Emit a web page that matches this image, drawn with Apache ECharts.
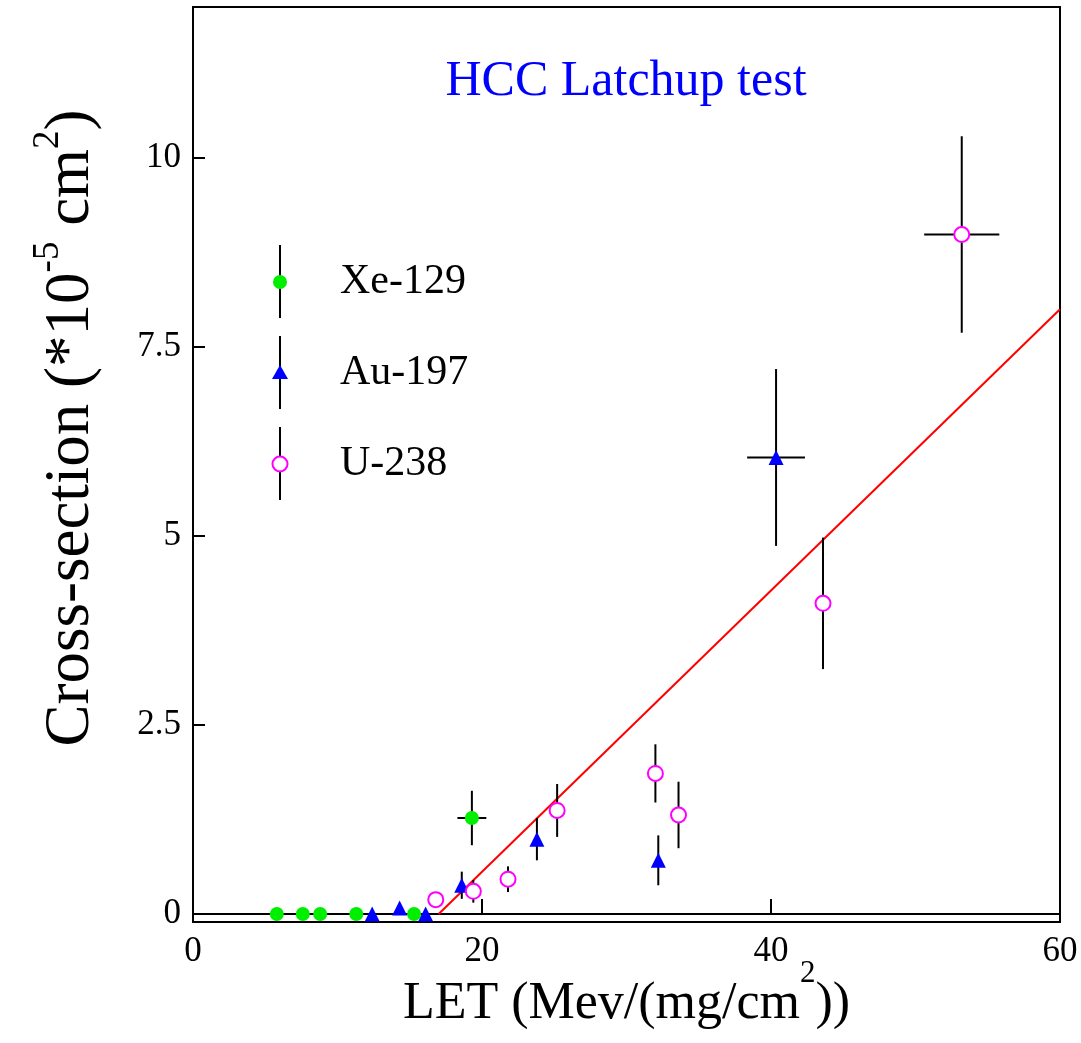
<!DOCTYPE html>
<html><head><meta charset="utf-8">
<script src="https://cdn.jsdelivr.net/npm/echarts@6/dist/echarts.min.js"></script>
<style>html,body{margin:0;padding:0;background:#fff}#c{width:1081px;height:1043px}</style>
</head><body><div id="c"></div>
<script>
// ---- data ----
const xeLET      = [5.8, 7.6, 8.8, 11.3, 15.3, 19.3];
const xeSigma    = [0, 0, 0, 0, 0, 1.27];
const xeLETErr   = [0, 0, 0, 0, 0, 1.0];
const xeSigmaErr = [0, 0, 0, 0, 0, 0.36];

const auLET      = [12.4, 14.3, 16.1, 18.6, 23.8, 32.2, 40.35];
const auSigma    = [0, 0.08, 0, 0.38, 0.99, 0.71, 6.04];
const auLETErr   = [0, 0, 0, 0, 0, 0, 2.0];
const auSigmaErr = [0, 0, 0, 0.18, 0.28, 0.33, 1.17];

const uLET       = [16.8, 19.4, 21.8, 25.2, 32.0, 33.6, 43.6, 53.2];
const uSigma     = [0.19, 0.30, 0.46, 1.37, 1.86, 1.31, 4.11, 8.99];
const uLETErr    = [0, 0, 0, 0, 0, 0, 0, 2.6];
const uSigmaErr  = [0.1, 0.15, 0.17, 0.35, 0.385, 0.44, 0.87, 1.3];

const fitLET     = [17.0, 60];
const fitSigma   = [0, 8.0];

const xTicks = [0, 20, 40, 60];
const yTicks = [0, 2.5, 5, 7.5, 10];

const seriesNames = ['Xe-129', 'Au-197', 'U-238'];

// ---- build ----
const FONT = '"Liberation Serif", "Times New Roman", serif';
const zip2 = (a, b) => a.map((v, i) => [v, b[i]]);
const zip4 = (a, b, c, d) => a.map((v, i) => [v, b[i], c[i], d[i]]);

function errRender(params, api) {
  const x = api.value(0), y = api.value(1), ex = api.value(2), ey = api.value(3);
  const style = { stroke: '#000', lineWidth: 2 };
  const children = [];
  if (ey > 0) {
    const p1 = api.coord([x, y - ey]), p2 = api.coord([x, y + ey]);
    children.push({ type: 'line', shape: { x1: p1[0], y1: p1[1], x2: p2[0], y2: p2[1] }, style });
  }
  if (ex > 0) {
    const p1 = api.coord([x - ex, y]), p2 = api.coord([x + ex, y]);
    children.push({ type: 'line', shape: { x1: p1[0], y1: p1[1], x2: p2[0], y2: p2[1] }, style });
  }
  return { type: 'group', children };
}

const errAll = [].concat(
  zip4(xeLET, xeSigma, xeLETErr, xeSigmaErr),
  zip4(auLET, auSigma, auLETErr, auSigmaErr),
  zip4(uLET, uSigma, uLETErr, uSigmaErr)
).filter(d => d[2] > 0 || d[3] > 0);

const chart = echarts.init(document.getElementById('c'), null, { renderer: 'canvas' });

const legendY = [282, 373, 464];
const legendGraphics = [];
legendY.forEach((cy, i) => {
  legendGraphics.push({ type: 'line', z: 10, shape: { x1: 280, y1: cy - 37, x2: 280, y2: cy + 36 }, style: { stroke: '#000', lineWidth: 2 } });
  if (i === 0) legendGraphics.push({ type: 'circle', z: 11, shape: { cx: 280, cy: cy, r: 7 }, style: { fill: '#00ee00' } });
  if (i === 1) legendGraphics.push({ type: 'polygon', z: 11, shape: { points: [[280, cy - 8], [272, cy + 6], [288, cy + 6]] }, style: { fill: '#0000ff' } });
  if (i === 2) legendGraphics.push({ type: 'circle', z: 11, shape: { cx: 280, cy: cy, r: 7.5 }, style: { fill: '#fff', stroke: '#ff00ff', lineWidth: 2 } });
  legendGraphics.push({ type: 'text', z: 11, x: 340, y: cy, style: { text: seriesNames[i], font: '42px ' + FONT, fill: '#000', align: 'left', verticalAlign: 'middle' } });
});

const option = {
  backgroundColor: '#fff',
  animation: false,
  grid: { left: 193, right: 21, top: 7, bottom: 121, show: true, borderColor: '#000', borderWidth: 2, backgroundColor: 'transparent', containLabel: false, outerBoundsMode: 'none' },
  xAxis: {
    type: 'value', min: 0, max: 60, interval: 20,
    axisLine: { show: false },
    axisTick: { show: true, inside: true, length: 15, lineStyle: { color: '#000', width: 2 } },
    axisLabel: { color: '#000', fontSize: 35, fontFamily: FONT, margin: 12 },
    splitLine: { show: false },
    name: '{n|LET (Mev/(mg/cm}{s|2}{n|))}',
    nameLocation: 'middle', nameGap: 36, nameMoveOverlap: false,
    nameTextStyle: {
      rich: {
        n: { fontSize: 52, fontFamily: FONT, color: '#000', lineHeight: 52, verticalAlign: 'bottom' },
        s: { fontSize: 31, fontFamily: FONT, color: '#000', padding: [0, 0, 41, 0], verticalAlign: 'bottom' }
      }
    }
  },
  yAxis: {
    type: 'value', min: -0.106, max: 12,
    axisLine: { show: false },
    axisTick: { show: true, inside: true, length: 12, customValues: yTicks, lineStyle: { color: '#000', width: 2 } },
    axisLabel: { color: '#000', fontSize: 35, fontFamily: FONT, margin: 12, customValues: yTicks },
    splitLine: { show: false }
  },
  graphic: [
    { type: 'text', x: 626, y: 82, style: { text: 'HCC Latchup test', font: '50px ' + FONT, fill: '#0000ff', align: 'center', verticalAlign: 'middle' } },
    {
      type: 'text', x: 66, y: 428, rotation: Math.PI / 2,
      style: {
        text: '{n|Cross-section (*10}{s|-5}{n| cm}{s|2}{n|)}',
        align: 'center', verticalAlign: 'middle',
        rich: {
          n: { fontSize: 63, fontFamily: FONT, fill: '#000', lineHeight: 63, verticalAlign: 'bottom' },
          s: { fontSize: 37, fontFamily: FONT, fill: '#000', padding: [0, 0, 36, 0], verticalAlign: 'bottom' }
        }
      }
    }
  ].concat(legendGraphics),
  series: [
    { name: 'zero', type: 'line', data: [[0, 0], [60, 0]], symbol: 'none', lineStyle: { color: '#000', width: 2 }, z: 1, silent: true },
    { name: 'fit', type: 'line', data: zip2(fitLET, fitSigma), symbol: 'none', lineStyle: { color: '#ff0000', width: 2 }, z: 2, silent: true },
    { name: 'errors', type: 'custom', renderItem: errRender, data: errAll, z: 3, encode: { x: 0, y: 1 } },
    { name: seriesNames[0], type: 'scatter', data: zip2(xeLET, xeSigma), symbol: 'circle', symbolSize: 14, itemStyle: { color: '#00ee00', opacity: 1 }, z: 5 },
    { name: seriesNames[1], type: 'scatter', data: zip2(auLET, auSigma), symbol: 'triangle', symbolSize: 15, itemStyle: { color: '#0000ff', opacity: 1 }, z: 5 },
    { name: seriesNames[2], type: 'scatter', data: zip2(uLET, uSigma), symbol: 'circle', symbolSize: 15, itemStyle: { color: '#ffffff', borderColor: '#ff00ff', borderWidth: 2, opacity: 1 }, z: 6 }
  ]
};
chart.setOption(option);
</script>
</body></html>
